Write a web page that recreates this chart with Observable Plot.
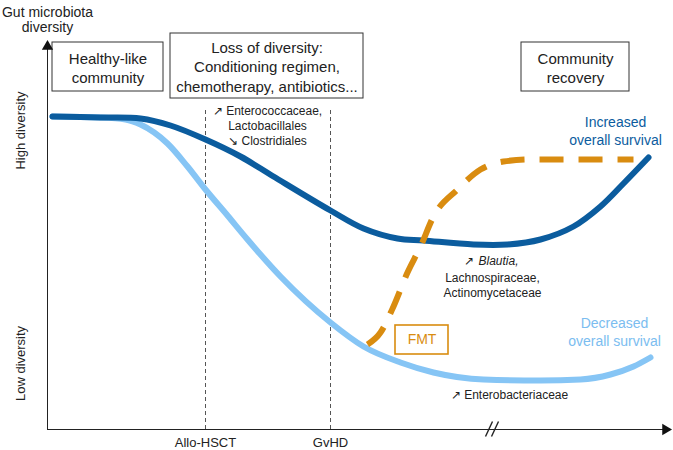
<!DOCTYPE html>
<html><head><meta charset="utf-8">
<script src="https://cdn.jsdelivr.net/npm/d3@7"></script>
<script src="https://cdn.jsdelivr.net/npm/@observablehq/plot@0.6"></script>
<style>body{margin:0;background:#fff} svg{display:block}</style>
</head><body><div id="chart"></div>
<script>
// time (arbitrary units) and microbiota diversity (arbitrary units)
const increasedT = [5,53,93,123,158,193,226,283,316,350,376,426,460,493,526,553,576,601];
const increasedD = [313,312,311,304,290,273,253,219,201,191,189,185,185,190,203,223,246,272];
const decreasedT = [5,53,78,93,120,140,158,180,200,233,283,316,353,386,436,493,533,563,586,603];
const decreasedD = [313,312,310,305,286,263,240,214,190,153,107,83,67,57,50,49,50,55,63,72];
const fmtT = [320,333,346,360,373,386,410,433,456,483,586];
const fmtD = [85,97,123,157,183,213,240,260,268,270,270];

const eventNames = ["Allo-HSCT", "GvHD"];
const eventT = [158, 283];

const phaseLabels = ["Healthy-like\ncommunity", "Loss of diversity:\nConditioning regimen,\nchemotherapy, antibiotics...", "Community\nrecovery"];
const phaseStart = [5, 123, 474];
const phaseEnd = [116, 316, 582];
const phaseLow = [338, 331, 338];
const phaseHigh = [387, 396, 387];

const DARK = "#0b5c9e", LIGHT = "#86c5f5", ORANGE = "#d98c10", INK = "#222";

const toRows = (T, D) => T.map((t, i) => ({t, d: D[i]}));
const increased = toRows(increasedT, increasedD);
const decreased = toRows(decreasedT, decreasedD);
const fmt = toRows(fmtT, fmtD);
const phases = phaseLabels.map((label, i) => ({label, x1: phaseStart[i], x2: phaseEnd[i], y1: phaseLow[i], y2: phaseHigh[i]}));
const breakMarks = [{x1: 438, y1: -7, x2: 445, y2: 8}, {x1: 444, y1: -7, x2: 451, y2: 8}];

const font = "'Liberation Sans', Arial, Helvetica, sans-serif";

const chart = Plot.plot({
  width: 673, height: 450,
  marginLeft: 47, marginRight: 6, marginTop: 0, marginBottom: 21,
  x: {domain: [0, 620], axis: null},
  y: {domain: [0, 429], axis: null},
  style: {fontFamily: font, background: "white", color: INK},
  marks: [
    Plot.ruleX(eventT, {y1: 0, y2: 321, stroke: "#555", strokeWidth: 1, strokeDasharray: "4,3"}),
    Plot.rect(phases, {x1: "x1", x2: "x2", y1: "y1", y2: "y2", fill: "white", stroke: "#333", strokeWidth: 1}),
    Plot.text(phases, {x: d => (d.x1 + d.x2) / 2, y: d => (d.y1 + d.y2) / 2, text: "label", fontSize: 15, lineHeight: 1.3, fill: INK}),
    // axes
    Plot.ruleX([0], {y1: 0, y2: 382, stroke: "#222", strokeWidth: 1}),
    Plot.ruleY([0], {x1: 0, x2: 616, stroke: "#222", strokeWidth: 1}),
    Plot.dot([0], {x: 0, y: 383, symbol: "triangle", r: 4.2, fill: "#111", stroke: null}),
    Plot.dot([0], {x: 618, y: 0, symbol: "triangle", r: 4.2, rotate: 90, fill: "#111", stroke: null}),
    Plot.axisX({ticks: eventT, tickFormat: (d) => eventNames[eventT.indexOf(d)], tickSize: 0, tickPadding: 8, fontSize: 13, label: null}),
    Plot.link(breakMarks, {x1: "x1", y1: "y1", x2: "x2", y2: "y2", stroke: "#222", strokeWidth: 1.4}),
    // curves
    Plot.line(decreased, {x: "t", y: "d", stroke: LIGHT, strokeWidth: 6, curve: "monotone-x"}),
    Plot.line(increased, {x: "t", y: "d", stroke: DARK, strokeWidth: 6, curve: "catmull-rom"}),
    Plot.line(fmt, {x: "t", y: "d", stroke: ORANGE, strokeWidth: 6, strokeDasharray: "24,15", strokeLinecap: "butt", curve: "monotone-x"}),
    // FMT box
    Plot.rect([0], {x1: 348, x2: 401, y1: 75, y2: 104, fill: "white", stroke: ORANGE, strokeWidth: 1.6}),
    Plot.text(["FMT"], {x: 374.5, y: 89.5, text: d => d, fill: ORANGE, fontSize: 14}),
    // labels
    Plot.text(["Gut microbiota\ndiversity"], {x: 0, y: 410, text: d => d, fontSize: 14, lineHeight: 1.08, fill: INK}),
    Plot.text(["High diversity"], {x: -27, y: 299, text: d => d, rotate: -90, fontSize: 13, fill: INK}),
    Plot.text(["Low diversity"], {x: -27, y: 66, text: d => d, rotate: -90, fontSize: 13, fill: INK}),
    Plot.text(["Increased\noverall survival"], {x: 568, y: 299, text: d => d, fontSize: 14, lineHeight: 1.3, fill: DARK}),
    Plot.text(["Decreased\noverall survival"], {x: 567, y: 98, text: d => d, fontSize: 14, lineHeight: 1.3, fill: "#7bbdf0"}),
    Plot.text(["↗ Enterococcaceae,\nLactobacillales\n↘ Clostridiales"], {x: 220, y: 304, text: d => d, fontSize: 12, lineHeight: 1.25, fill: INK}),
    Plot.text(["↗"], {x: 421, y: 168, text: d => d, fontSize: 12, fill: INK}),
    Plot.text(["Blautia,"], {x: 431, y: 168, text: d => d, fontSize: 12, fontStyle: "italic", textAnchor: "start", fill: INK}),
    Plot.text(["Lachnospiraceae,\nActinomycetaceae"], {x: 445, y: 145, text: d => d, fontSize: 12, lineHeight: 1.25, fill: INK}),
    Plot.text(["↗ Enterobacteriaceae"], {x: 462, y: 34, text: d => d, fontSize: 12, fill: INK})
  ]
});
document.getElementById("chart").append(chart);
</script>
</body></html>
